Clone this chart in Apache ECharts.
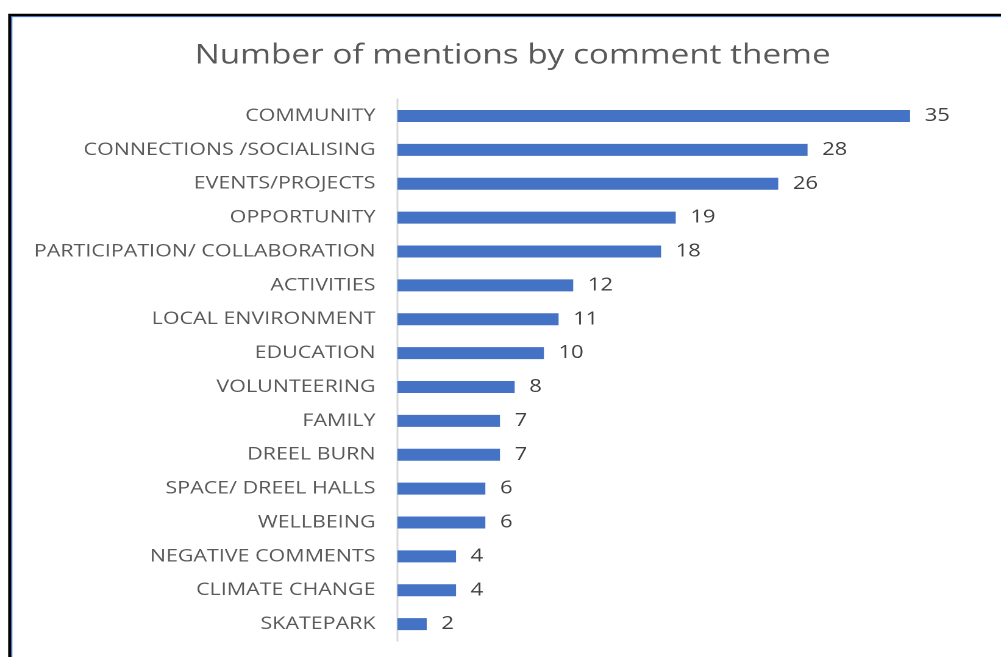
<!DOCTYPE html>
<html>
<head>
<meta charset="utf-8">
<script src="https://cdn.jsdelivr.net/npm/echarts@6/dist/echarts.min.js"></script>
<style>
html,body{margin:0;padding:0;background:#fff;overflow:hidden;}
#c{width:821px;height:657px;transform:scaleX(1.2192);transform-origin:0 0;}
</style>
</head>
<body>
<div id="c"></div>
<script>
const categories = ["COMMUNITY","CONNECTIONS /SOCIALISING","EVENTS/PROJECTS","OPPORTUNITY","PARTICIPATION/ COLLABORATION","ACTIVITIES","LOCAL ENVIRONMENT","EDUCATION","VOLUNTEERING","FAMILY","DREEL BURN","SPACE/ DREEL HALLS","WELLBEING","NEGATIVE COMMENTS","CLIMATE CHANGE","SKATEPARK"];
const mentions = [35,28,26,19,18,12,11,10,8,7,7,6,6,4,4,2];
const titleText = "Number of mentions by comment theme";

const chart = echarts.init(document.getElementById('c'), null, {devicePixelRatio: 2});
chart.setOption({
  animation: false,
  title: {
    text: titleText, left: 415.5, top: 37, textAlign: 'center',
    textStyle: {fontFamily: 'Open Sans', fontSize: 27.3, fontWeight: 'normal', color: '#595959'}
  },
  graphic: [
    {type: 'rect', shape: {x: 8, y: 15, width: 1000, height: 800}, style: {fill: 'none', stroke: '#000', lineWidth: 2.6}, z: 10},
    {type: 'rect', shape: {x: 9.6, y: 16.6, width: 1000, height: 800}, style: {fill: 'none', stroke: '#4472c4', lineWidth: 1.1}, z: 10}
  ],
  grid: {left: 326, top: 99, width: 480.5, height: 542, containLabel: false},
  xAxis: {type: 'value', min: 0, max: 40, show: false},
  yAxis: {
    type: 'category', data: categories, inverse: true,
    axisLine: {show: true, lineStyle: {color: '#d9d9d9', width: 1.5}},
    axisTick: {show: false},
    axisLabel: {margin: 18, fontFamily: 'Open Sans', fontSize: 17.6, color: '#595959'}
  },
  series: [{
    type: 'bar', data: mentions, barWidth: 12,
    itemStyle: {color: '#4472c4'},
    label: {show: true, position: 'right', distance: 12, fontFamily: 'Open Sans', fontSize: 18, color: '#404040'}
  }]
});
</script>
</body>
</html>
